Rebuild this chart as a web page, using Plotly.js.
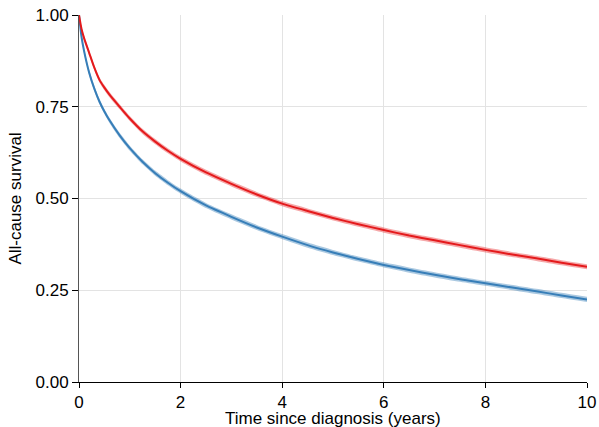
<!DOCTYPE html>
<html>
<head>
<meta charset="utf-8">
<script src="https://cdn.plot.ly/plotly-3.0.1.min.js"></script>
<style>html,body{margin:0;padding:0;background:#fff;}#chart{width:599px;height:427px;}</style>
</head>
<body>
<div id="chart"></div>
<script>
var time = [0, 0.05, 0.1, 0.2, 0.3, 0.4, 0.5, 0.6, 0.8, 1.0, 1.25, 1.5, 1.75, 2, 2.5, 3, 3.5, 4, 4.5, 5, 5.5, 6, 6.5, 7, 7.5, 8, 8.5, 9, 9.5, 10];

var redSurv  = [1.000, 0.962, 0.937, 0.897, 0.857, 0.824, 0.802, 0.783, 0.750, 0.718, 0.683, 0.655, 0.630, 0.608, 0.571, 0.540, 0.511, 0.486, 0.466, 0.447, 0.430, 0.414, 0.399, 0.386, 0.373, 0.360, 0.348, 0.337, 0.325, 0.314];
var redLower = [1.000, 0.956, 0.930, 0.890, 0.850, 0.817, 0.795, 0.776, 0.743, 0.711, 0.676, 0.648, 0.623, 0.601, 0.564, 0.533, 0.504, 0.479, 0.459, 0.440, 0.423, 0.407, 0.392, 0.379, 0.366, 0.353, 0.341, 0.330, 0.318, 0.307];
var redUpper = [1.000, 0.968, 0.944, 0.904, 0.864, 0.831, 0.809, 0.790, 0.757, 0.725, 0.690, 0.662, 0.637, 0.615, 0.578, 0.547, 0.518, 0.493, 0.473, 0.454, 0.437, 0.421, 0.406, 0.393, 0.380, 0.367, 0.355, 0.344, 0.332, 0.321];

var blueSurv  = [1.000, 0.940, 0.902, 0.843, 0.800, 0.765, 0.737, 0.713, 0.672, 0.637, 0.600, 0.569, 0.543, 0.520, 0.481, 0.450, 0.421, 0.396, 0.373, 0.353, 0.335, 0.319, 0.305, 0.292, 0.280, 0.269, 0.258, 0.247, 0.236, 0.225];
var blueLower = [1.000, 0.934, 0.895, 0.836, 0.793, 0.758, 0.730, 0.706, 0.665, 0.630, 0.593, 0.562, 0.536, 0.513, 0.474, 0.443, 0.414, 0.389, 0.366, 0.346, 0.328, 0.312, 0.298, 0.285, 0.273, 0.262, 0.251, 0.240, 0.229, 0.218];
var blueUpper = [1.000, 0.946, 0.909, 0.850, 0.807, 0.772, 0.744, 0.720, 0.679, 0.644, 0.607, 0.576, 0.550, 0.527, 0.488, 0.457, 0.428, 0.403, 0.380, 0.360, 0.342, 0.326, 0.312, 0.299, 0.287, 0.276, 0.265, 0.254, 0.243, 0.232];

var xTicks = [0, 2, 4, 6, 8, 10];
var yTicks = [0, 0.25, 0.5, 0.75, 1];
var xTitle = 'Time since diagnosis (years)';
var yTitle = 'All-cause survival';

var RED = '#e41a1c', BLUE = '#377eb8';

var traces = [
  {x: time, y: blueLower, mode: 'lines', line: {width: 0, color: BLUE, shape: 'spline', smoothing: 0.6}, hoverinfo: 'skip', showlegend: false},
  {x: time, y: blueUpper, mode: 'lines', line: {width: 0, color: BLUE, shape: 'spline', smoothing: 0.6}, fill: 'tonexty', fillcolor: 'rgba(55,126,184,0.42)', hoverinfo: 'skip', showlegend: false},
  {x: time, y: redLower, mode: 'lines', line: {width: 0, color: RED, shape: 'spline', smoothing: 0.6}, hoverinfo: 'skip', showlegend: false},
  {x: time, y: redUpper, mode: 'lines', line: {width: 0, color: RED, shape: 'spline', smoothing: 0.6}, fill: 'tonexty', fillcolor: 'rgba(228,26,28,0.38)', hoverinfo: 'skip', showlegend: false},
  {x: time, y: blueSurv, mode: 'lines', line: {width: 2, color: BLUE, shape: 'spline', smoothing: 0.6}, showlegend: false},
  {x: time, y: redSurv, mode: 'lines', line: {width: 2, color: RED, shape: 'spline', smoothing: 0.6}, showlegend: false}
];

var fontFam = 'Liberation Sans, Arial, sans-serif';
var layout = {
  width: 599, height: 427,
  margin: {l: 79, r: 12, t: 15, b: 45, pad: 0},
  paper_bgcolor: '#fff', plot_bgcolor: '#fff',
  font: {family: fontFam, size: 17, color: '#000'},
  showlegend: false,
  xaxis: {
    range: [0, 10], tickvals: xTicks, ticktext: xTicks.map(String),
    showgrid: true, gridcolor: '#e3e3e3', gridwidth: 1,
    zeroline: false, showline: true, linecolor: '#000', linewidth: 1,
    ticks: 'outside', ticklen: 5, tickcolor: '#000',
    tickfont: {family: fontFam, size: 17, color: '#000'},
    automargin: false, fixedrange: true
  },
  yaxis: {
    range: [0, 1], tickvals: yTicks, ticktext: yTicks.map(function(v){return v.toFixed(2);}),
    showgrid: true, gridcolor: '#e3e3e3', gridwidth: 1,
    zeroline: false, showline: true, linecolor: '#555', linewidth: 1,
    ticks: 'outside', ticklen: 6, tickcolor: '#000',
    tickfont: {family: fontFam, size: 17, color: '#000'},
    title: {text: yTitle, font: {family: fontFam, size: 17, color: '#000'}, standoff: 9},
    automargin: false, fixedrange: true
  },
  annotations: [{
    text: xTitle, xref: 'paper', yref: 'paper', x: 0.5, y: -0.0985,
    xanchor: 'center', yanchor: 'middle', showarrow: false,
    font: {family: fontFam, size: 17, color: '#000'}
  }]
};

Plotly.newPlot('chart', traces, layout, {displayModeBar: false, staticPlot: true});
</script>
</body>
</html>
